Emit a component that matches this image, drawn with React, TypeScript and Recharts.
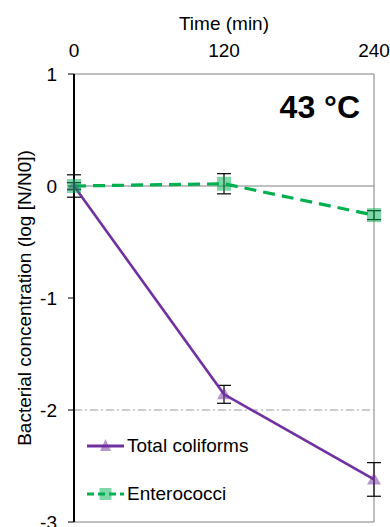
import {
  ComposedChart, Line, XAxis, YAxis, ErrorBar, ReferenceLine, ReferenceArea, Legend,
} from "recharts";

// time points (min) and log reductions
const times             = [0, 120, 240];
const totalColiforms    = [0, -1.86, -2.62];
const totalColiformsErr = [0.1, 0.08, 0.15];
const enterococci       = [0, 0.02, -0.26];
const enterococciErr    = [0.03, 0.09, 0.04];
const xTicks            = [0, 120, 240];
const yTicks            = [-3, -2, -1, 0, 1];

const PURPLE = "#7030A0";
const GREEN  = "#00B050";
const FONT   = "'Liberation Sans', Arial, sans-serif";
const FS     = 19;

const data = times.map((t, i) => ({
  t,
  tc: totalColiforms[i],
  tcErr: totalColiformsErr[i],
  ent: enterococci[i],
  entErr: enterococciErr[i],
}));

function Triangle({ cx, cy, size = 14 }: any) {
  if (cx == null || cy == null) return null;
  const h = size / 2;
  return (
    <polygon
      points={`${cx},${cy - 7} ${cx - h},${cy + 5} ${cx + h},${cy + 5}`}
      fill={PURPLE} fillOpacity={0.5} stroke="none"
    />
  );
}

function Square({ cx, cy, size = 14 }: any) {
  if (cx == null || cy == null) return null;
  return (
    <rect x={cx - size / 2} y={cy - size / 2} width={size} height={size}
      fill={GREEN} fillOpacity={0.5} stroke="none" />
  );
}

function LegendBox() {
  const rows = [
    { name: "Total coliforms", color: PURPLE, dash: undefined, Marker: Triangle },
    { name: "Enterococci",     color: GREEN,  dash: "7 4",     Marker: Square },
  ];
  return (
    <div style={{ fontFamily: FONT, fontSize: FS, color: "#000" }}>
      {rows.map((r, i) => (
        <div key={r.name} style={{ display: "flex", alignItems: "center", height: 24, marginTop: i ? 24 : 0 }}>
          <svg width={40} height={20} style={{ marginRight: 1 }}>
            <line x1={1} x2={38} y1={10} y2={10} stroke={r.color}
              strokeWidth={3} strokeDasharray={r.dash} />
            <r.Marker cx={19.5} cy={10} size={i ? 12 : 11} />
          </svg>
          <span>{r.name}</span>
        </div>
      ))}
    </div>
  );
}

export default function App() {
  return (
    <div style={{ width: 390, height: 527, fontFamily: FONT }}>
      <style>{"body{margin:0}"}</style>
      <ComposedChart width={390} height={527} data={data}
        margin={{ top: 0, right: 16, bottom: 5, left: 0 }}>
        <XAxis dataKey="t" type="number" orientation="top" domain={[0, 240]} ticks={xTicks}
          height={74} axisLine={false} tickLine={false} tickSize={6} tickMargin={11} interval={0}
          tick={{ fontSize: FS, fill: "#000", fontFamily: FONT }}
          label={{
            content: ({ viewBox }: any) => (
              <text x={viewBox.x + viewBox.width / 2} y={30} textAnchor="middle"
                fontSize={FS} fill="#000" fontFamily={FONT}>Time (min)</text>
            ),
          }} />
        <YAxis type="number" domain={[-3, 1]} ticks={yTicks} width={74} interval={0}
          axisLine={{ stroke: "#000", strokeWidth: 2 }} tickLine={{ stroke: "#000" }}
          tickSize={6} tickMargin={11}
          tick={{ fontSize: FS, fill: "#000", fontFamily: FONT }}
          label={{
            content: ({ viewBox }: any) => {
              const cy = viewBox.y + viewBox.height / 2;
              return (
                <text x={31} y={cy} transform={`rotate(-90 31 ${cy})`} textAnchor="middle"
                  fontSize={FS} fill="#000" fontFamily={FONT}>
                  Bacterial concentration (log [N/N0])
                </text>
              );
            },
          }} />

        <ReferenceArea x1={0} x2={240} y1={-3} y2={1} fill="none" stroke="#808080" strokeWidth={1} />
        <ReferenceLine y={0} stroke="#808080" strokeWidth={1.2} />
        <ReferenceLine y={-2} stroke="#9a9a9a" strokeWidth={1} strokeDasharray="8 3 2 3" />

        <Line dataKey="tc" name="Total coliforms" stroke={PURPLE} strokeWidth={2.6}
          dot={(p: any) => <Triangle key={p.index} cx={p.cx} cy={p.cy} />}
          activeDot={false} isAnimationActive={false}>
          <ErrorBar dataKey="tcErr" direction="y" width={7} stroke="#000" strokeWidth={1.2}
            isAnimationActive={false} />
        </Line>
        <Line dataKey="ent" name="Enterococci" stroke={GREEN} strokeWidth={3.2}
          strokeDasharray="12 7"
          dot={(p: any) => <Square key={p.index} cx={p.cx} cy={p.cy} />}
          activeDot={false} isAnimationActive={false}>
          <ErrorBar dataKey="entErr" direction="y" width={7} stroke="#000" strokeWidth={1.2}
            isAnimationActive={false} />
        </Line>

        <text x={360} y={118} textAnchor="end" fontSize={32} fontWeight="bold"
          fill="#000" fontFamily={FONT}>43 °C</text>

        <Legend layout="vertical" align="center" verticalAlign="middle"
          wrapperStyle={{ left: 86, top: 434, width: 230 }}
          content={() => <LegendBox />} />
      </ComposedChart>
    </div>
  );
}
